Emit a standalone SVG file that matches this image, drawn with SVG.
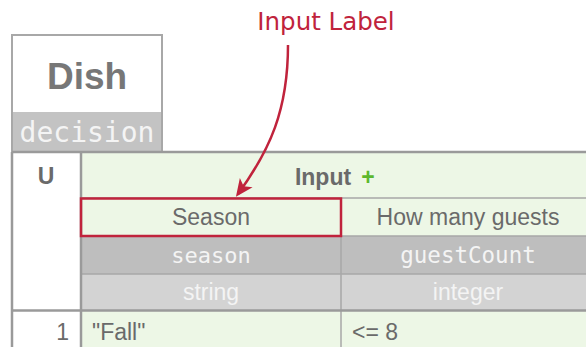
<svg xmlns="http://www.w3.org/2000/svg" width="586" height="347" viewBox="0 0 586 347">
<style>
.sans{font-family:"Liberation Sans",Arial,sans-serif}
.mono{font-family:"DejaVu Sans Mono","Liberation Mono",monospace}
.lbl{font-size:23px;fill:#6a6a6a}
.hdr{font-size:23px;font-weight:bold;fill:#6a6a6a}
.wt{fill:#f4f4f4}
.grid{stroke:#a8a8a8;stroke-width:1.5;fill:none}
.thick{stroke:#9a9a9a;stroke-width:2.5;fill:none}
.green{fill:#edf7e6}
</style>
<defs>
<marker id="ah" viewBox="0 0 10 10" refX="8" refY="5" markerWidth="7" markerHeight="7" orient="auto" markerUnits="strokeWidth">
<path d="M0,0.5 L10,5 L0,9.5 L2.5,5 Z" fill="#c0233c"/>
</marker>
</defs>
<rect width="586" height="347" fill="#ffffff"/>

<g id="dish">
<rect x="12" y="35" width="150" height="117" fill="#ffffff" stroke="#a8a8a8" stroke-width="2"/>
<rect x="13" y="112" width="148" height="40" fill="#c3c3c3"/>
<text x="87" y="89" text-anchor="middle" class="sans" font-size="37" font-weight="bold" fill="#777777">Dish</text>
<text x="87" y="142" text-anchor="middle" class="mono wt" font-size="28">decision</text>
</g>

<g id="table">
<rect x="12" y="152" width="69" height="195" fill="#ffffff"/>
<rect x="81" y="152" width="505" height="46" class="green"/>
<rect x="81" y="198" width="505" height="38" class="green"/>
<rect x="81" y="236" width="505" height="38" fill="#bebebe"/>
<rect x="81" y="274" width="505" height="36" fill="#d3d3d3"/>
<rect x="81" y="311" width="505" height="36" class="green"/>
<path class="grid" d="M81,198 H586 M81,236 H586 M81,274 H586 M341,198 V347"/>
<path class="thick" d="M12,152 H586 M12,310.5 H586 M12,152 V347 M81,152 V347"/>
</g>

<g id="header-u">
<text x="46" y="184" text-anchor="middle" class="sans hdr" font-size="21">U</text>
</g>
<g id="header-input">
<text x="323" y="185" text-anchor="middle" class="sans hdr">Input</text>
<text x="368" y="185" text-anchor="middle" class="sans" font-size="23" font-weight="bold" fill="#5cb82e">+</text>
</g>
<g id="col-season">
<text x="211" y="225" text-anchor="middle" class="sans lbl">Season</text>
<text x="211" y="263" text-anchor="middle" class="mono wt" font-size="22">season</text>
<text x="211" y="300" text-anchor="middle" class="sans wt" font-size="23">string</text>
</g>
<g id="col-guests">
<text x="468" y="225" text-anchor="middle" class="sans lbl">How many guests</text>
<text x="468" y="263" text-anchor="middle" class="mono wt" font-size="22.5">guestCount</text>
<text x="468" y="300" text-anchor="middle" class="sans wt" font-size="23">integer</text>
</g>
<g id="row-1">
<text x="69" y="340" text-anchor="end" class="sans lbl">1</text>
<text x="92" y="340" class="sans lbl">"Fall"</text>
<text x="352" y="340" class="sans lbl">&lt;= 8</text>
</g>

<g id="highlight">
<rect x="81" y="198.5" width="260" height="37.5" fill="none" stroke="#c0233c" stroke-width="2.5"/>
</g>
<g id="callout">
<text x="326" y="30" text-anchor="middle" font-family="'DejaVu Sans','Open Sans',sans-serif" font-size="24.5" fill="#c0233c">Input Label</text>
</g>

<g id="connectors">
<path d="M288,45 C288,110 270,150 238,194" fill="none" stroke="#c0233c" stroke-width="2.5" marker-end="url(#ah)"/>
</g>
</svg>
